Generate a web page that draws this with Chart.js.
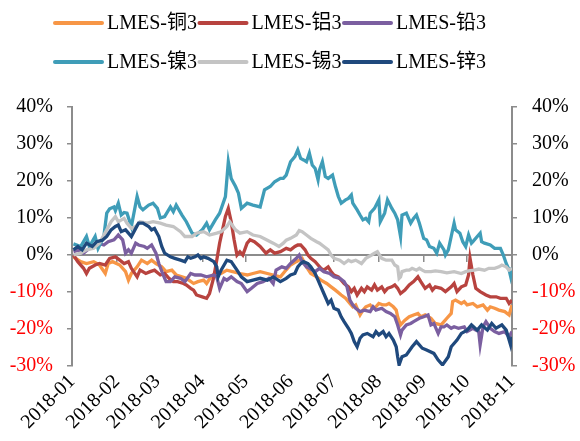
<!DOCTYPE html>
<html>
<head>
<meta charset="utf-8">
<script src="https://cdn.jsdelivr.net/npm/chart.js@4/dist/chart.umd.min.js"></script>
<style>
  html, body { margin: 0; padding: 0; background: #ffffff; }
  #wrap { width: 580px; height: 441px; position: relative; }
</style>
</head>
<body>
<div id="wrap"><canvas id="chart"></canvas></div>
<script>
// LME 3-month contract returns in 2018, percent change; x = days since 2018-01-01
const seriesNames = ['LMES-铜3', 'LMES-铝3', 'LMES-铅3', 'LMES-镍3', 'LMES-锡3', 'LMES-锌3'];
const seriesColors = ['#F79646', '#B8433F', '#7B5FA0', '#3F9DB8', '#C4C4C4', '#1F497D'];

const monthLabels = ['2018-01', '2018-02', '2018-03', '2018-04', '2018-05', '2018-06',
                     '2018-07', '2018-08', '2018-09', '2018-10', '2018-11'];
const monthStartDays = [0, 31, 59, 90, 120, 151, 181, 212, 243, 273, 304];
const percentTicks = [-30, -20, -10, 0, 10, 20, 30, 40];

const copper = [[1,-0.5],[6,-1.8],[10,-2.3],[15,-1.8],[19,-2.7],[23,-5.0],[25,-2.3],[28,-1.8],[33,-2.7],[37,-4.5],[39,-6.8],[41,-5.0],[45,-3.2],[48,-1.4],[52,-2.3],[55,-1.4],[58,-2.3],[62,-3.2],[65,-4.5],[69,-4.1],[72,-5.4],[76,-5.9],[79,-6.3],[84,-7.7],[87,-7.2],[91,-6.8],[93,-7.7],[96,-5.9],[100,-4.5],[103,-5.0],[107,-4.1],[111,-4.5],[116,-5.0],[121,-5.4],[125,-5.0],[130,-4.5],[135,-5.0],[139,-5.4],[144,-5.9],[148,-4.0],[151,-2.7],[155,-1.8],[157,-1.4],[159,-0.9],[162,-3.2],[165,-5.0],[169,-5.9],[172,-6.8],[176,-7.7],[179,-8.6],[182,-9.5],[186,-10.8],[189,-11.7],[192,-13.1],[194,-14.0],[196,-13.5],[199,-16.2],[201,-14.9],[203,-14.0],[206,-13.5],[208,-14.4],[210,-14.0],[212,-13.1],[215,-13.5],[217,-13.5],[219,-13.1],[222,-14.0],[224,-14.9],[225,-16.7],[227,-18.9],[230,-17.6],[233,-16.7],[236,-16.2],[239,-15.8],[241,-16.7],[244,-16.2],[248,-17.1],[251,-18.5],[255,-18.9],[257,-18.0],[259,-17.1],[262,-15.8],[263,-12.6],[265,-12.2],[269,-13.1],[271,-12.6],[273,-13.5],[277,-13.1],[280,-14.0],[284,-13.5],[287,-14.9],[289,-14.0],[292,-14.4],[295,-14.9],[299,-15.3],[302,-16.2],[304,-13.5]];

const aluminium = [[1,0],[4,-1.8],[8,-3.6],[10,-5.0],[12,-3.6],[16,-2.7],[19,-2.3],[23,-2.7],[26,-0.9],[30,-0.5],[33,-1.4],[36,-2.3],[39,-1.8],[41,-3.6],[45,-5.9],[47,-4.1],[51,-5.0],[54,-4.5],[57,-4.1],[61,-5.4],[64,-5.0],[67,-6.3],[70,-7.2],[73,-7.2],[77,-7.7],[79,-8.1],[82,-9.0],[84,-9.5],[86,-10.8],[90,-11.3],[93,-11.7],[95,-10.4],[98,-5.9],[100,-1.4],[102,3.2],[104,6.8],[106,10.4],[108,12.6],[110,9.0],[112,4.1],[114,0],[116,0.9],[118,0],[121,3.2],[123,4.1],[126,3.6],[130,2.3],[134,0.5],[137,1.4],[140,0.5],[144,0.9],[148,1.8],[151,1.4],[154,2.3],[156,2.7],[158,2.7],[161,1.4],[163,0],[165,-0.9],[168,-1.8],[170,-2.7],[172,-3.6],[174,-4.1],[177,-3.2],[179,-4.5],[181,-5.4],[184,-5.9],[186,-6.8],[188,-7.7],[191,-8.6],[193,-9.9],[195,-9.0],[197,-10.8],[200,-9.0],[202,-9.9],[204,-8.6],[207,-9.5],[209,-8.1],[211,-9.5],[214,-8.6],[216,-9.9],[218,-9.0],[221,-8.6],[223,-8.1],[225,-9.0],[227,-10.4],[230,-9.5],[233,-8.1],[236,-7.2],[239,-5.9],[241,-7.2],[244,-9.0],[247,-8.1],[249,-9.5],[251,-8.6],[255,-9.0],[258,-9.9],[262,-8.6],[264,-7.7],[266,-9.9],[269,-8.6],[272,-8.1],[274,-5.4],[275,-0.9],[277,-5.4],[279,-9.0],[282,-9.9],[286,-10.8],[289,-11.3],[293,-11.3],[296,-11.7],[300,-11.7],[302,-13.1],[304,-12.2]];

const lead = [[1,0.9],[5,1.4],[8,0.5],[12,1.8],[15,2.3],[18,3.2],[22,2.7],[25,3.6],[29,4.1],[32,5.4],[35,4.1],[37,0.5],[39,1.4],[41,0.5],[44,3.2],[46,2.7],[50,2.3],[52,1.8],[55,2.7],[58,0.5],[60,-2.3],[63,-5.4],[65,-7.2],[68,-7.2],[71,-5.9],[75,-6.3],[78,-7.2],[82,-5.0],[85,-5.4],[89,-5.4],[93,-5.9],[98,-5.4],[100,-5.9],[102,-9.0],[105,-6.3],[107,-6.8],[110,-5.9],[114,-7.2],[117,-7.7],[121,-9.9],[124,-9.0],[128,-7.7],[132,-7.2],[136,-6.3],[139,-7.7],[141,-4.1],[145,-3.2],[148,-3.6],[151,-2.3],[155,-0.9],[157,0],[159,-1.8],[162,-3.2],[164,-3.6],[168,-4.5],[171,-3.6],[174,-4.5],[178,-5.0],[181,-5.9],[185,-6.3],[188,-7.2],[190,-8.6],[192,-12.2],[194,-13.5],[196,-14.4],[199,-15.3],[202,-14.9],[206,-15.3],[208,-14.0],[210,-14.9],[214,-14.4],[217,-15.3],[220,-15.8],[223,-16.7],[225,-18.9],[227,-21.6],[228,-20.3],[231,-18.9],[234,-18.5],[236,-18.0],[240,-17.1],[243,-16.7],[246,-16.2],[248,-18.9],[250,-18.5],[253,-21.2],[255,-19.4],[257,-19.4],[259,-18.9],[262,-19.8],[264,-19.4],[267,-19.8],[271,-19.4],[273,-20.7],[277,-19.8],[279,-20.3],[281,-20.7],[282,-24.3],[284,-19.4],[286,-18.0],[289,-19.8],[292,-20.7],[295,-21.2],[299,-20.7],[302,-22.1],[304,-20.7]];

const nickel = [[1,3.0],[6,2.3],[10,5.0],[12,2.3],[16,5.0],[18,1.8],[22,5.0],[24,11.3],[26,12.5],[29,13.0],[30,12.0],[32,14.0],[34,10.8],[36,11.5],[38,11.3],[41,7.7],[45,15.8],[47,13.0],[49,12.2],[53,13.5],[56,14.0],[59,12.6],[61,10.0],[64,10.4],[68,13.0],[70,11.7],[72,13.5],[76,10.8],[79,9.0],[83,5.9],[86,5.4],[90,6.8],[93,8.6],[95,6.8],[99,9.5],[102,11.3],[106,15.8],[108,25.2],[110,20.7],[113,18.5],[115,16.7],[117,12.6],[121,14.0],[125,13.5],[130,13.0],[133,17.6],[137,18.5],[140,19.8],[144,20.7],[146,20.7],[148,21.6],[151,25.2],[154,26.6],[156,28.4],[158,26.1],[160,25.7],[162,25.2],[164,27.5],[166,24.3],[168,23.4],[170,20.3],[171,23.0],[173,25.2],[175,21.2],[177,20.7],[180,21.6],[182,18.5],[184,15.8],[186,14.0],[189,14.9],[191,15.3],[193,16.2],[194,14.0],[197,12.2],[199,10.8],[201,9.5],[203,9.9],[205,9.0],[206,11.3],[209,12.6],[212,14.9],[213,9.0],[216,11.3],[218,14.9],[221,12.6],[223,11.3],[225,9.5],[227,5.0],[228,10.8],[231,11.3],[234,8.6],[236,9.9],[238,10.8],[240,8.6],[243,4.5],[245,4.1],[247,2.3],[250,1.8],[252,0.5],[254,3.2],[257,1.4],[258,0],[260,1.4],[262,5.0],[264,8.6],[265,6.8],[268,5.9],[270,3.6],[272,2.3],[274,5.4],[276,3.2],[277,3.6],[280,5.0],[282,5.9],[283,3.6],[285,3.2],[289,2.7],[292,1.8],[296,1.8],[298,0],[300,-2.3],[302,-4.0],[303,-5.7],[304,-3.4]];

const tin = [[1,0],[6,0.5],[10,1.4],[15,1.8],[19,3.2],[24,6.8],[27,9.0],[30,10.4],[32,9.0],[36,9.9],[38,8.6],[41,7.2],[44,7.7],[47,9.0],[52,8.6],[56,9.0],[61,8.6],[65,8.1],[70,7.7],[75,6.3],[78,5.0],[83,5.0],[86,5.9],[91,6.3],[95,5.4],[100,5.9],[103,6.3],[107,7.7],[109,9.0],[113,6.8],[116,5.9],[121,6.3],[125,5.4],[130,5.0],[135,4.0],[139,3.2],[143,2.3],[146,3.2],[148,4.0],[151,4.5],[155,5.4],[157,6.6],[159,6.3],[162,5.4],[165,4.5],[169,3.6],[171,3.2],[174,2.3],[177,1.4],[179,0],[181,-0.9],[185,-1.4],[188,-2.3],[191,-1.4],[193,-1.8],[196,-1.4],[200,-2.3],[203,-0.9],[207,0],[209,0.5],[211,0.9],[214,-0.9],[217,-1.4],[221,-1.4],[223,-2.7],[225,-3.2],[226,-6.3],[227,-5.9],[228,-4.5],[231,-4.1],[233,-4.1],[235,-3.6],[238,-4.1],[240,-3.6],[242,-4.1],[244,-4.5],[248,-4.5],[251,-4.3],[255,-4.5],[259,-4.8],[264,-4.5],[269,-5.0],[272,-4.5],[274,-4.3],[278,-4.1],[281,-3.8],[285,-4.1],[288,-3.6],[292,-3.6],[295,-3.2],[297,-2.7],[300,-3.2],[302,-4.1],[304,-3.6]];

const zinc = [[1,1.4],[4,2.3],[7,1.4],[10,3.2],[14,2.3],[17,3.6],[21,4.0],[24,5.0],[27,6.8],[30,7.7],[32,8.1],[34,6.3],[37,6.8],[39,5.9],[41,5.0],[44,7.2],[46,8.6],[49,8.6],[53,7.7],[55,6.8],[57,7.2],[60,5.0],[62,2.3],[64,0.5],[68,-0.5],[71,-0.9],[75,-1.4],[78,-1.8],[80,-0.5],[82,-0.9],[85,-0.5],[87,0],[89,-0.9],[91,-0.5],[94,-0.9],[98,-1.8],[100,-3.2],[101,-5.9],[103,-4.1],[107,-1.4],[110,-1.8],[114,-4.1],[117,-5.9],[121,-7.2],[125,-6.8],[130,-6.3],[135,-6.8],[139,-5.9],[144,-7.2],[148,-6.3],[151,-5.4],[154,-5.0],[156,-3.2],[158,-2.3],[160,-1.8],[163,-2.3],[165,-3.2],[168,-5.0],[170,-6.8],[172,-8.6],[174,-10.4],[177,-13.1],[179,-12.2],[181,-14.4],[184,-14.9],[186,-16.7],[188,-18.0],[191,-19.8],[193,-21.2],[195,-23.4],[197,-24.8],[199,-22.5],[201,-21.6],[204,-21.2],[208,-22.1],[210,-20.7],[212,-21.6],[215,-20.7],[217,-22.1],[219,-21.2],[222,-23.0],[224,-24.8],[225,-27.5],[226,-29.7],[228,-27.5],[231,-27.0],[235,-24.8],[238,-23.4],[242,-25.2],[245,-25.7],[250,-26.6],[253,-28.4],[256,-29.7],[260,-27.5],[262,-24.8],[266,-23.0],[269,-21.2],[273,-20.3],[276,-18.9],[280,-20.3],[283,-18.9],[287,-20.3],[290,-18.5],[293,-19.8],[297,-18.9],[300,-20.3],[303,-24.3],[304,-22.1]];

const seriesData = [copper, aluminium, lead, nickel, tin, zinc];

const AXIS_GREY = '#8C8C8C';
const FONT_FAMILY = '"Liberation Serif", "Times New Roman", "Noto Sans CJK SC", serif';

// Two-row legend with short line samples, laid out in three aligned columns
const lineLegend = {
  id: 'lineLegend',
  afterDraw(chart) {
    const ctx = chart.ctx;
    const rowsY = [23, 62];
    const colsX = [55, 199.5, 344];
    const sample = 47;
    ctx.save();
    ctx.font = '20px ' + FONT_FAMILY;
    ctx.textBaseline = 'middle';
    ctx.textAlign = 'left';
    chart.data.datasets.forEach((ds, i) => {
      const x = colsX[i % 3];
      const y = rowsY[Math.floor(i / 3)];
      ctx.strokeStyle = ds.borderColor;
      ctx.lineWidth = 4;
      ctx.lineCap = 'round';
      ctx.beginPath();
      ctx.moveTo(x, y);
      ctx.lineTo(x + sample, y);
      ctx.stroke();
      ctx.fillStyle = '#000000';
      ctx.fillText(ds.label, x + sample + 5, y + 1);
    });
    ctx.restore();
  }
};

const monthTicks = axis => { axis.ticks = monthStartDays.map(v => ({ value: v })); };
const percentTickBuilder = axis => { axis.ticks = percentTicks.map(v => ({ value: v })); };
const tickColor = c => (c.tick && c.tick.value < 0) ? '#FF0000' : '#000000';

new Chart(document.getElementById('chart'), {
  type: 'line',
  data: {
    datasets: seriesNames.map((name, i) => ({
      label: name,
      data: seriesData[i],
      borderColor: seriesColors[i],
      backgroundColor: seriesColors[i],
      borderWidth: 3.3,
      pointRadius: 0,
      tension: 0,
      fill: false,
      order: seriesNames.length - i,
      xAxisID: 'x',
      yAxisID: 'y'
    }))
  },
  options: {
    responsive: true,
    maintainAspectRatio: false,
    animation: false,
    layout: { padding: { top: 107, left: 0, right: 0, bottom: 0 } },
    plugins: {
      legend: { display: false },
      tooltip: { enabled: false }
    },
    scales: {
      // axis line drawn through 0% with month tick marks
      x: {
        type: 'linear',
        min: 0,
        max: 304,
        position: { y: 0 },
        afterBuildTicks: monthTicks,
        ticks: { display: false },
        grid: { drawOnChartArea: false, drawTicks: true, tickLength: 6, color: AXIS_GREY, lineWidth: 1.5 },
        border: { display: true, color: AXIS_GREY, width: 2 }
      },
      // month labels along the bottom
      xLabels: {
        type: 'linear',
        min: 0,
        max: 304,
        position: 'bottom',
        afterBuildTicks: monthTicks,
        afterFit: s => { s.height = 75; },
        ticks: {
          autoSkip: false,
          minRotation: 45,
          maxRotation: 45,
          padding: 4,
          color: '#000000',
          font: { family: FONT_FAMILY, size: 20 },
          callback: v => {
            const i = monthStartDays.indexOf(v);
            return i >= 0 ? monthLabels[i] : '';
          }
        },
        grid: { display: false, drawTicks: false },
        border: { display: false }
      },
      y: {
        type: 'linear',
        position: 'left',
        min: -30,
        max: 40,
        afterBuildTicks: percentTickBuilder,
        afterFit: s => { s.width = 72; },
        ticks: {
          padding: 14,
          color: tickColor,
          font: { family: FONT_FAMILY, size: 20 },
          callback: v => v + '%'
        },
        grid: { drawOnChartArea: false, tickLength: 5, color: AXIS_GREY, lineWidth: 1.5 },
        border: { color: AXIS_GREY, width: 2 }
      },
      y2: {
        type: 'linear',
        position: 'right',
        min: -30,
        max: 40,
        afterBuildTicks: percentTickBuilder,
        afterFit: s => { s.width = 68; },
        ticks: {
          padding: 15,
          color: tickColor,
          font: { family: FONT_FAMILY, size: 20 },
          callback: v => v + '%'
        },
        grid: { drawOnChartArea: false, tickLength: 5, color: AXIS_GREY, lineWidth: 1.5 },
        border: { color: AXIS_GREY, width: 2 }
      }
    }
  },
  plugins: [lineLegend]
});
</script>
</body>
</html>
